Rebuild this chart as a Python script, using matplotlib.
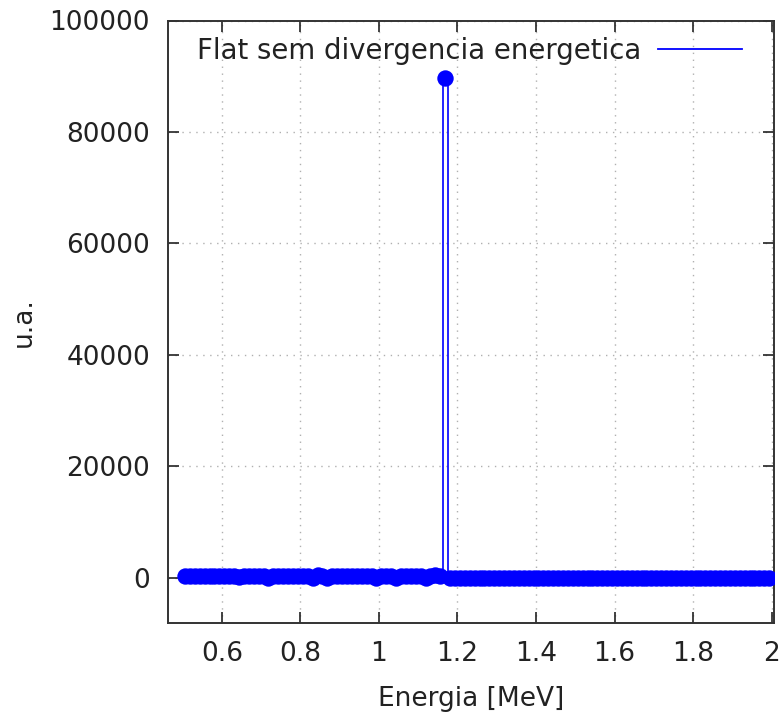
import numpy as np
import matplotlib
matplotlib.use('Agg')
import matplotlib.pyplot as plt
from matplotlib.lines import Line2D

# energy bins (MeV): bin centres on a uniform grid
energy_start = 0.50625
energy_step = 0.0125

# counts below the peak (small, noisy plateau)
counts_low = [
    330, 340, 320, 350, 330, 310, 340, 330, 350, 320,
    300, 20, 290, 340, 330, 350, 310, -20, 300, 340,
    330, 350, 320, 340, 330, 300, -60, 380, 300, -40,
    300, 340, 330, 350, 320, 340, 330, 320, 290, -30,
    300, 340, 320, -50, 290, 340, 330, 350, 320, -40,
    330, 380, 300,
]
# the single line (~1.17 MeV)
counts_peak = [89600]
# counts above the peak (flat at zero)
counts_high = [
    0, 0, 0, 0, 0, 0, 0, 0, 0, 0, 0, 0, 0, 0, 0, 0, 0, 0, 0, 0, 0, 0,
    0, 0, 0, 0, 0, 0, 0, 0, 0, 0, 0, 0, 0, 0, 0, 0, 0, 0, 0, 0, 0, 0,
    0, 0, 0, 0, 0, 0, 0, 0, 0, 0, 0, 0, 0, 0, 0, 0, 0, 0, 0, 0, 0, 0,
]

x_ticks = [0.6, 0.8, 1.0, 1.2, 1.4, 1.6, 1.8, 2.0]
x_tick_labels = ['0.6', '0.8', '1', '1.2', '1.4', '1.6', '1.8', '2']
y_ticks = [0, 20000, 40000, 60000, 80000, 100000]

counts = np.array(counts_low + counts_peak + counts_high, dtype=float)
energy = energy_start + energy_step * np.arange(len(counts))

plt.rcParams['font.family'] = 'DejaVu Sans'
fs = 19
blue = '#0000ff'
dark = '#222222'

fig = plt.figure(figsize=(7.79, 7.26), dpi=100)
ax = fig.add_axes([168 / 779, 1 - 623 / 726, (774 - 168) / 779, (623 - 20.5) / 726])

# gnuplot-like "histeps" line plus a point at every bin centre
ax.step(energy, counts, where='mid', color=blue, lw=1.2, zorder=3)
ax.plot(energy, counts, ls='none', marker='o', ms=11.8, mec='none', mfc=blue, zorder=4)

ax.set_xlim(0.463, 2.006)
ax.set_ylim(-8150, 100000)
ax.set_xticks(x_ticks)
ax.set_xticklabels(x_tick_labels)
ax.set_yticks(y_ticks)

ax.grid(True, color='#b0b0b0', linestyle=(0, (1, 4)), linewidth=1.0)
ax.set_axisbelow(True)
ax.tick_params(direction='in', length=8, width=1.2, top=True, right=True,
               labelsize=fs, pad=13, colors=dark)
for s in ax.spines.values():
    s.set_linewidth(1.4)
    s.set_color('#333333')

ax.set_xlabel('Energia [MeV]', fontsize=fs, color=dark, labelpad=14)
ax.set_ylabel('u.a.', fontsize=fs, color=dark, labelpad=9)

handle = Line2D([0], [0], color=blue, lw=1.3)
ax.legend([handle], ['Flat sem divergencia energetica'], loc='upper right',
          frameon=False, fontsize=19.8, markerfirst=False, handlelength=3.05,
          handletextpad=0.6, borderpad=0, borderaxespad=0, labelcolor=dark,
          bbox_to_anchor=((741.7 - 168) / 606, 0.973))

fig.savefig('out.png', dpi=100, facecolor='white')
